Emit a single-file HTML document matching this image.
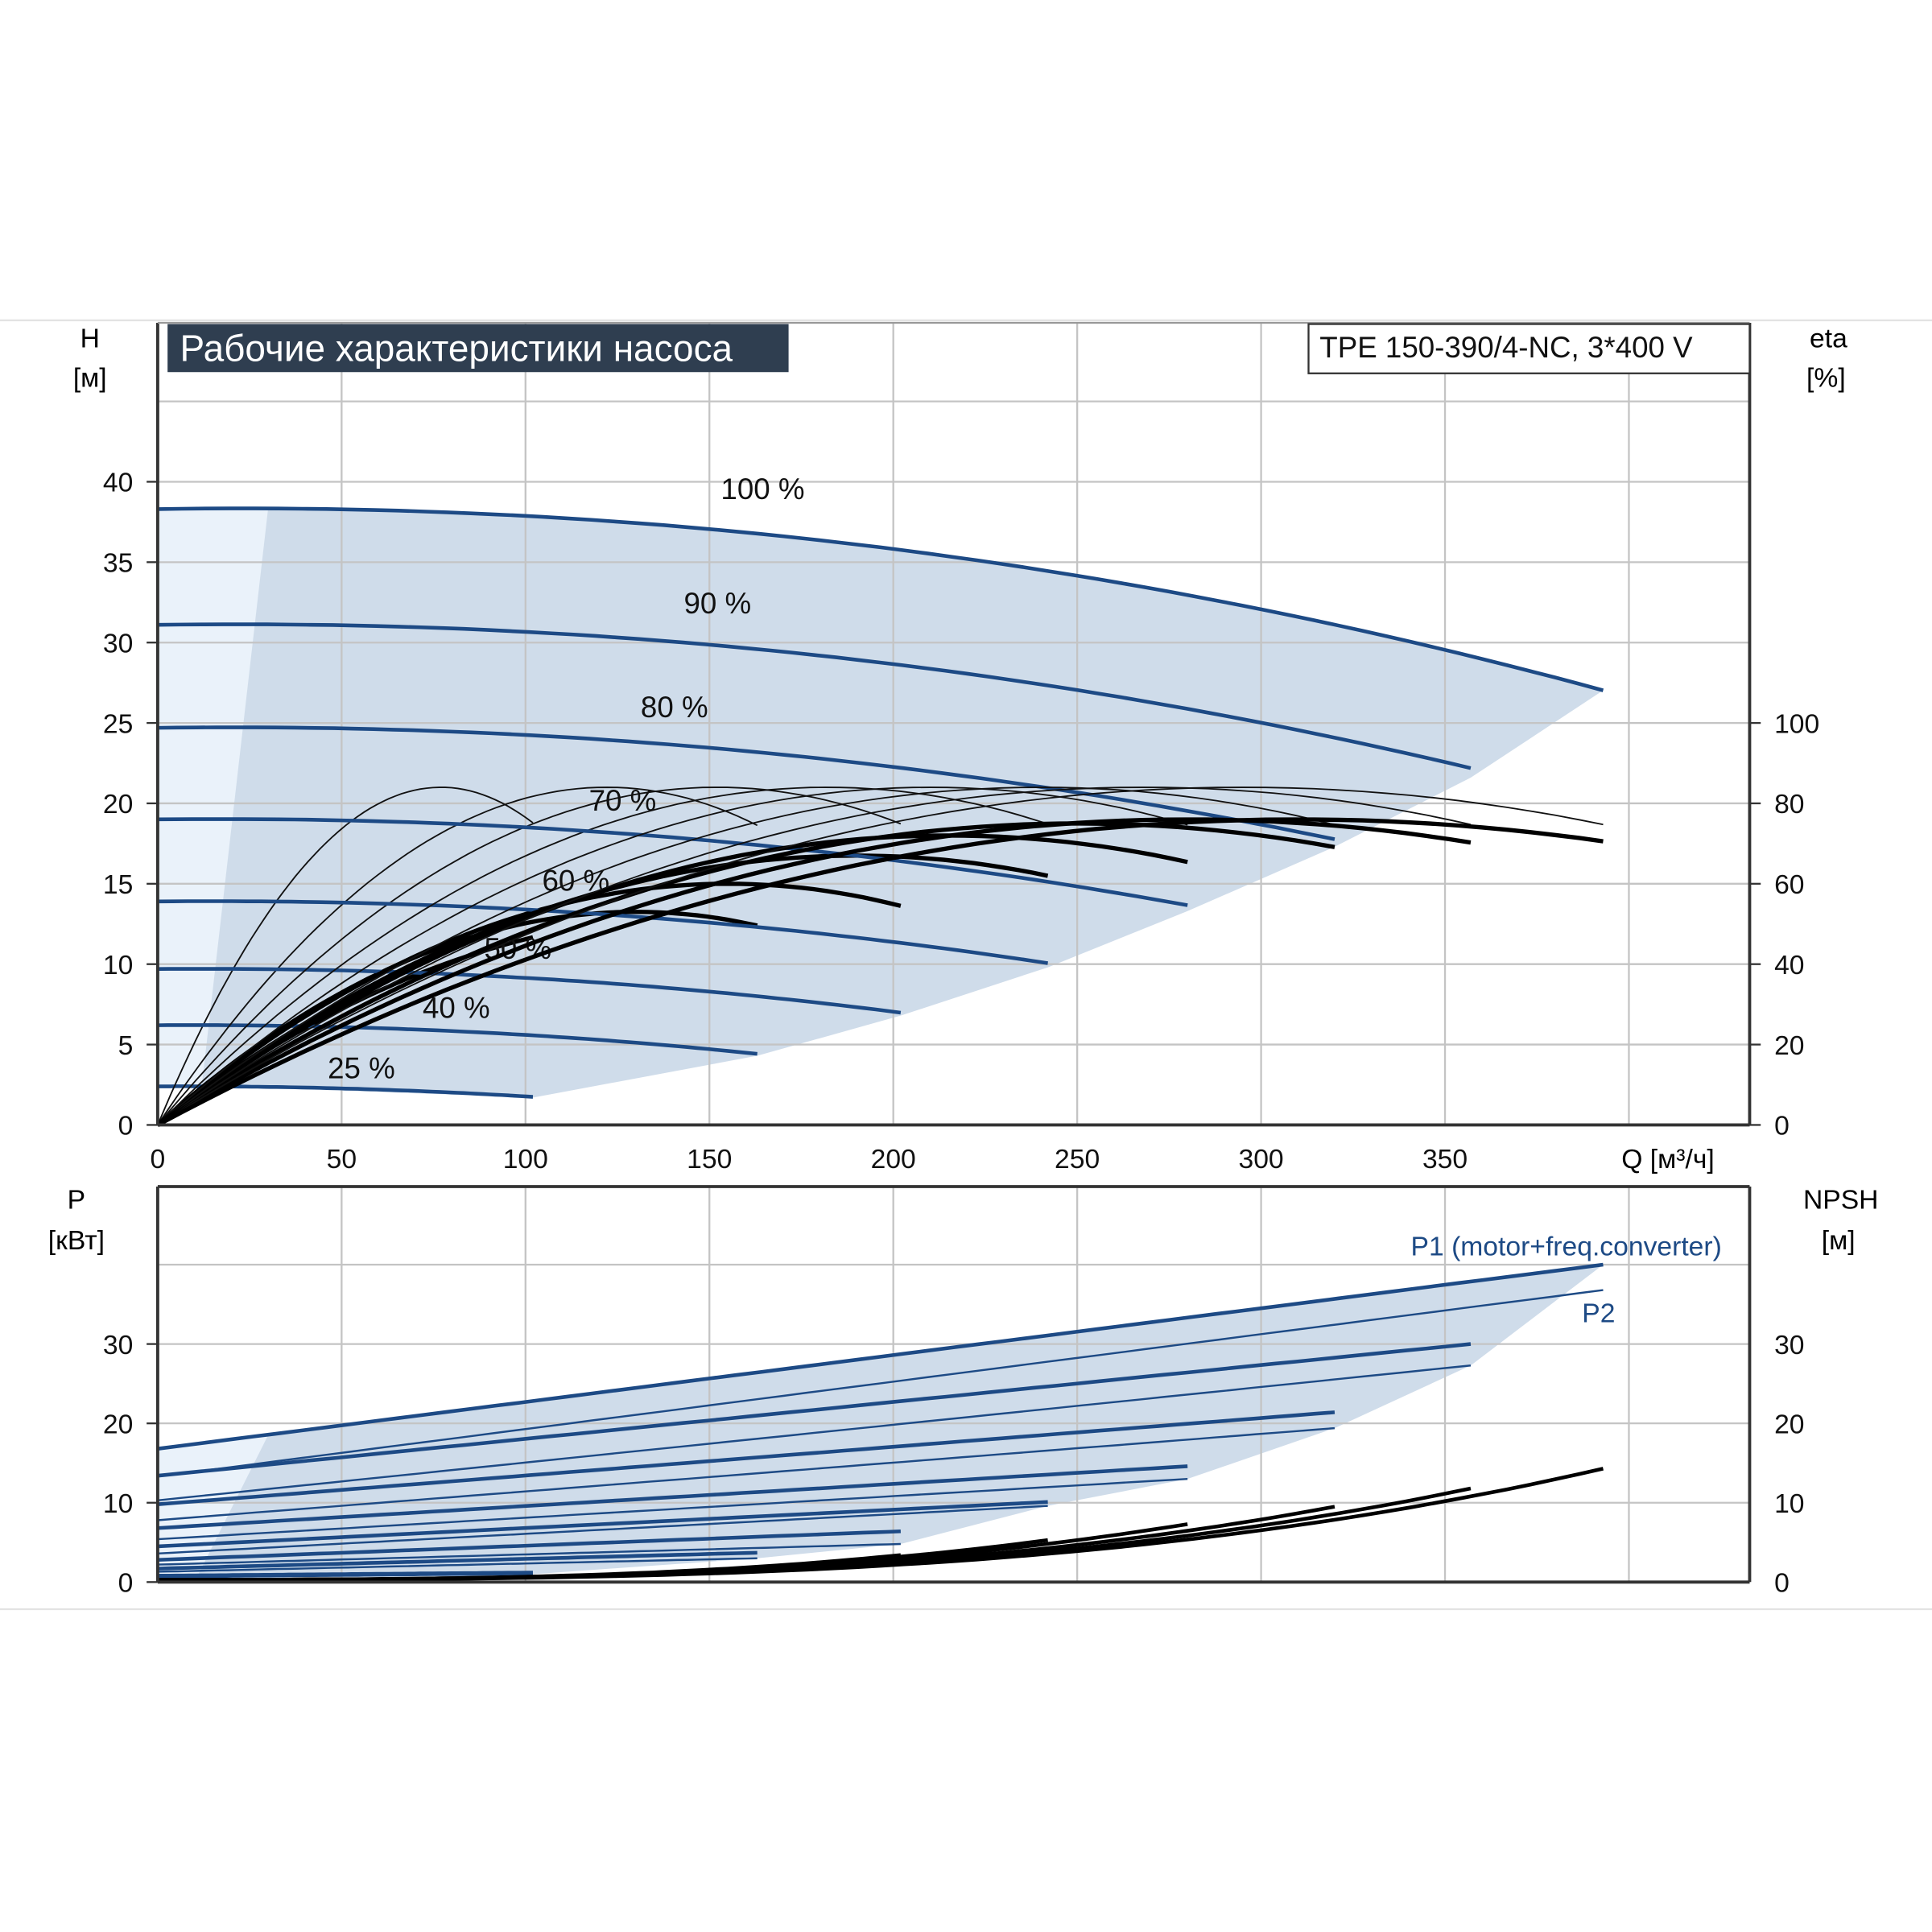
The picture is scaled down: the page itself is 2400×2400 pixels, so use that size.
<!DOCTYPE html>
<html><head><meta charset="utf-8"><style>
html,body{margin:0;padding:0;background:#fff;}
svg{display:block;}
text{font-family:"Liberation Sans","DejaVu Sans",sans-serif;}
</style></head><body>
<svg id="chart" width="2400" height="2400" viewBox="0 0 1568 1568" xmlns="http://www.w3.org/2000/svg">
<line x1="0" y1="260" x2="1568" y2="260" stroke="#e3e3e3" stroke-width="1.5"/>
<line x1="0" y1="1306" x2="1568" y2="1306" stroke="#e3e3e3" stroke-width="1.5"/>
<g id="shade"></g>
<g id="grid"></g>
<g id="curves"></g>
<g id="axes"></g>
<rect x="136" y="263" width="504" height="39" fill="#2f3e50"/>
<text x="146" y="293" font-size="30" fill="#fff">Рабочие характеристики насоса</text>
<rect x="1062" y="263" width="358" height="40" fill="#fff" stroke="#333" stroke-width="1.5"/>
<text x="1071" y="290" font-size="24" fill="#111">TPE 150-390/4-NC, 3*400 V</text>
<text x="73" y="282" font-size="22" text-anchor="middle">H</text>
<text x="73" y="314" font-size="22" text-anchor="middle">[м]</text>
<text x="1484" y="282" font-size="22" text-anchor="middle">eta</text>
<text x="1482" y="314" font-size="22" text-anchor="middle">[%]</text>
<text x="1316" y="948" font-size="22">Q [м³/ч]</text>
<text x="62" y="981" font-size="22" text-anchor="middle">P</text>
<text x="62" y="1014" font-size="22" text-anchor="middle">[кВт]</text>
<text x="1494" y="981" font-size="22" text-anchor="middle">NPSH</text>
<text x="1492" y="1014" font-size="22" text-anchor="middle">[м]</text>
<text x="1145" y="1019" font-size="22" fill="#1d4a85">P1 (motor+freq.converter)</text>
<text x="1284" y="1073" font-size="22" fill="#1d4a85">P2</text>
<script>
const speeds=["25 %","40 %","50 %","60 %","70 %","80 %","90 %","100 %"];
const hShutoff=[2.4,6.2,9.7,13.9,19.0,24.7,31.1,38.3];
const qEnd=[102,163,202,242,280,320,357,393];
const hEnd=[1.7,4.3,6.8,9.8,13.3,17.3,21.6,26.3];
const etaThinPeak=[84,84,84,84,84,84,84,84];
const etaThinQp=[77,122,152,182,210,240,268,295];
const etaThickPeak=[52,53,60,67,72,75,76,76];
const etaThickQp=[150,130,155,190,215,250,280,310];
const p1Start=[0.8,1.7,2.8,4.5,6.8,9.8,13.4,16.8];
const p1End=[1.2,3.7,6.4,10.1,14.6,21.4,30.0,40.0];
const p2Start=[0.6,1.3,2.2,3.6,5.4,7.8,10.3,13.3];
const p2End=[1.0,3.0,4.8,9.6,13.0,19.4,27.3,36.8];
const npshEnd=[0.6,1.6,3.4,5.3,7.3,9.5,11.8,14.3];
const hTicks=[0,5,10,15,20,25,30,35,40];
const etaTicks=[0,20,40,60,80,100];
const qTicks=[0,50,100,150,200,250,300,350];
const pTicks=[0,10,20,30];
const labelPos=[[266,875],[343,826],[393,778],[440,723],[478,658],[520,582],[555,498],[585,405]];

const NS="http://www.w3.org/2000/svg";
const X=q=>128+q*2.985;
const YH=h=>913-h*13.05;
const YE=e=>913-e*13.05*0.25;
const YP=p=>1284-p*6.44;
function mk(tag,attrs,parent){const e=document.createElementNS(NS,tag);for(const k in attrs)e.setAttribute(k,attrs[k]);document.getElementById(parent).appendChild(e);return e;}
function H(i,q){const u=q/qEnd[i];return hShutoff[i]+0.02*hShutoff[i]*Math.sin(Math.PI*u*0.6)+(hEnd[i]-hShutoff[i])*u*u;}
function pathFn(f,q0,q1,Y){let d="";for(let k=0;k<=60;k++){const q=q0+(q1-q0)*k/60;d+=(k?"L":"M")+X(q).toFixed(1)+","+Y(f(q)).toFixed(1);}return d;}
// shaded regions
{
 const n=speeds.length-1;
 let d=pathFn(q=>H(n,q),0,qEnd[n],YH);
 for(let i=n-1;i>=0;i--)d+="L"+X(qEnd[i])+","+YH(hEnd[i]);
 d+="L"+X(30)+","+YH(2.3)+"L"+X(0)+","+YH(2.4)+"Z";
 let s=mk("path",{d:d,fill:"#cfdcea"},"shade");
 
 
 let l=mk("path",{d:"M"+X(0)+","+YH(38.3)+"L"+X(30)+","+YH(38.3)+"L"+X(12)+","+YH(2.5)+"L"+X(0)+","+YH(2.4)+"Z",fill:"#eaf2fa"},"shade");
 
 
 let d2=pathFn(q=>p1Start[n]+(p1End[n]-p1Start[n])*q/qEnd[n],0,qEnd[n],YP);
 for(let i=n-1;i>=0;i--)d2+="L"+X(qEnd[i])+","+YP(p2End[i]);
 d2+="L"+X(30)+","+YP(0)+"L"+X(0)+","+YP(0)+"Z";
 let s2=mk("path",{d:d2,fill:"#cfdcea"},"shade");
 
 
 let l2=mk("path",{d:"M"+X(0)+","+YP(16.8)+"L"+X(30)+","+YP(18.5)+"L"+X(10)+","+YP(0)+"L"+X(0)+","+YP(0)+"Z",fill:"#eaf2fa"},"shade");
 
 
}
// grid
for(const q of qTicks.concat([400])){if(q===0)continue;
 let g=mk("line",{x1:X(q),x2:X(q),y1:262,y2:913,stroke:"#c4c4c4","stroke-width":1.5},"grid");
 
 
 let g2=mk("line",{x1:X(q),x2:X(q),y1:963,y2:1284,stroke:"#c4c4c4","stroke-width":1.5},"grid");
 
 }
for(const h of hTicks.concat([45])){if(h===0)continue;
 let g=mk("line",{x1:128,x2:1420,y1:YH(h),y2:YH(h),stroke:"#c4c4c4","stroke-width":1.5},"grid");
 
 }
for(const p of pTicks.concat([40])){if(p===0)continue;
 let g=mk("line",{x1:128,x2:1420,y1:YP(p),y2:YP(p),stroke:"#c4c4c4","stroke-width":1.5},"grid");
 
 }
// curves
speeds.forEach((s,i)=>{
 let c=mk("path",{d:pathFn(q=>H(i,q),0,qEnd[i],YH),fill:"none",stroke:"#1d4a85","stroke-width":3},"curves");
 
 
 let et=mk("path",{d:pathFn(q=>{const u=q/etaThinQp[i];return etaThinPeak[i]*(2*u-u*u);},0,qEnd[i],YE),fill:"none",stroke:"#111","stroke-width":1.2},"curves");
 
 
 let ek=mk("path",{d:pathFn(q=>{const u=q/etaThickQp[i];return etaThickPeak[i]*(2*u-u*u);},0,qEnd[i],YE),fill:"none",stroke:"#000","stroke-width":3.5},"curves");
 
 
 let p1=mk("path",{d:pathFn(q=>p1Start[i]+(p1End[i]-p1Start[i])*q/qEnd[i],0,qEnd[i],YP),fill:"none",stroke:"#1d4a85","stroke-width":3},"curves");
 
 
 let p2=mk("path",{d:pathFn(q=>p2Start[i]+(p2End[i]-p2Start[i])*q/qEnd[i],0,qEnd[i],YP),fill:"none",stroke:"#1d4a85","stroke-width":1.6},"curves");
 
 
 let np=mk("path",{d:pathFn(q=>0.3+(npshEnd[i]-0.3)*Math.pow(q/qEnd[i],3),0,qEnd[i],YP),fill:"none",stroke:"#000","stroke-width":3},"curves");
 
 
 let t=mk("text",{x:labelPos[i][0],y:labelPos[i][1],"font-size":24,fill:"#111"},"curves");
 t.textContent=s;
 
 
});
// axes
function ax(a){let l=mk("line",Object.assign({stroke:"#333","stroke-width":2.5},a),"axes");return l;}
let a1=ax({x1:128,x2:128,y1:262,y2:913});
let a2=ax({x1:1420,x2:1420,y1:262,y2:913});
let a3=ax({x1:128,x2:1420,y1:913,y2:913});
let a4=ax({x1:128,x2:1420,y1:262,y2:262,stroke:"#999","stroke-width":1.5});
let a5=ax({x1:128,x2:1420,y1:963,y2:963});
let a6=ax({x1:128,x2:128,y1:963,y2:1284});
let a7=ax({x1:1420,x2:1420,y1:963,y2:1284});
let a8=ax({x1:128,x2:1420,y1:1284,y2:1284});
function label(x,y,txt,anchor,name){let t=mk("text",{x:x,y:y,"font-size":22,"text-anchor":anchor,fill:"#111"},"axes");t.textContent=txt;}
hTicks.forEach(h=>{label(108,YH(h)+8,String(h),"end","h-tick-label");
 let t=ax({x1:119,x2:128,y1:YH(h),y2:YH(h),"stroke-width":1.5});});
etaTicks.forEach(e=>{label(1440,YE(e)+8,String(e),"start","eta-tick-label");
 let t=ax({x1:1420,x2:1429,y1:YE(e),y2:YE(e),"stroke-width":1.5});});
qTicks.forEach(q=>label(X(q),948,String(q),"middle","q-tick-label"));
pTicks.forEach(p=>{label(108,YP(p)+8,String(p),"end","p-tick-label");label(1440,YP(p)+8,String(p),"start","npsh-tick-label");
 let t=ax({x1:119,x2:128,y1:YP(p),y2:YP(p),"stroke-width":1.5});});
</script>
</svg>
</body></html>
